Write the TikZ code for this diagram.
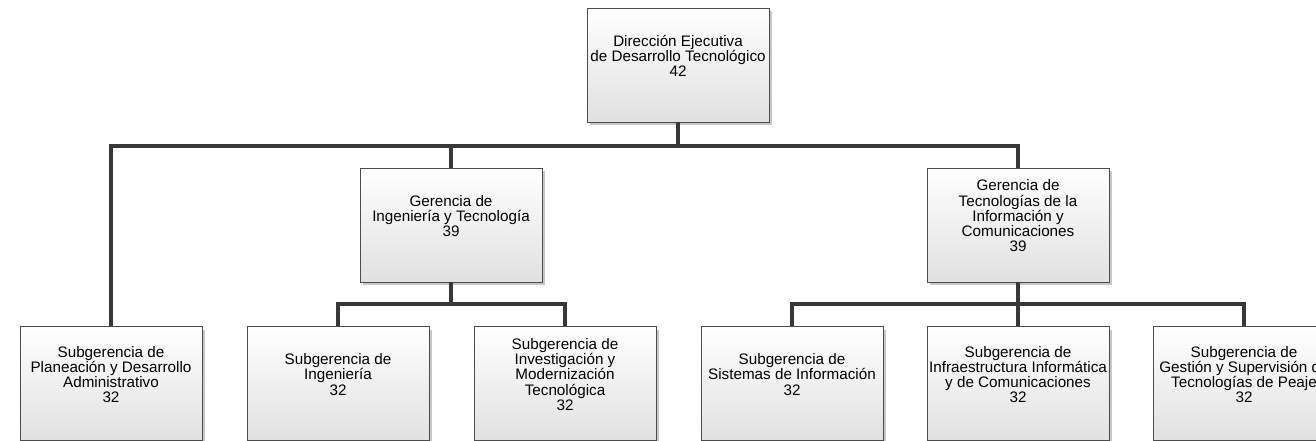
\documentclass[tikz,border=0pt]{standalone}
\usepackage{fontspec}
\setmainfont{Liberation Sans}
\usetikzlibrary{shadows}

\begin{document}
\begin{tikzpicture}[x=3cm,y=-3cm,
    unidad/.style={draw=black!70,line width=0.6pt,shade,top color=white,bottom color=black!12,
      minimum width=5.46cm,minimum height=3.42cm,inner sep=0pt,align=center,text depth=0.55cm,
      font=\fontsize{13}{13}\selectfont,
      drop shadow={shadow xshift=2.6pt,shadow yshift=-2.6pt,fill=black!22,opacity=1}},
    enlace/.style={draw=black!78,line width=3pt}]
  \clip (0,0) rectangle (13.16,4.41);
   \draw (6.78,0.65) node[unidad] (direccion) {Dirección Ejecutiva\\de Desarrollo Tecnológico\\42};
    \draw (4.51,2.25) node[unidad] (g-ingenieria) {Gerencia de\\Ingeniería y Tecnología\\39};
    \draw (10.18,2.25) node[unidad] (g-tic) {Gerencia de\\Tecnologías de la\\Información y\\Comunicaciones\\39};
  \draw (1.11,3.835) node[unidad] (s-planeacion) {Subgerencia de\\Planeación y Desarrollo\\Administrativo\\32};
      \draw (3.38,3.835) node[unidad] (s-ingenieria) {Subgerencia de\\Ingeniería\\32};
      \draw (5.65,3.835) node[unidad] (s-investigacion) {Subgerencia de\\Investigación y\\Modernización\\Tecnológica\\32};
       \draw (7.92,3.835) node[unidad] (s-sistemas) {Subgerencia de\\Sistemas de Información\\32};
       \draw (10.18,3.835) node[unidad] (s-infraestructura) {Subgerencia de\\Infraestructura Informática\\y de Comunicaciones\\32};
       \draw (12.44,3.835) node[unidad] (s-peaje) {Subgerencia de\\Gestión y Supervisión de\\Tecnologías de Peaje\\32};

    \coordinate (bus-dir) at (6.78,1.46);
    \coordinate (bus-ing) at (4.51,3.04);
    \coordinate (bus-tic) at (10.18,3.04);

        \path[enlace] (direccion) -- (bus-dir);
        \path[enlace] (bus-dir) -| (s-planeacion);
        \path[enlace] (bus-dir) -| (g-ingenieria);
        \path[enlace] (bus-dir) -| (g-tic);

          \path[enlace] (g-ingenieria) -- (bus-ing);
          \path[enlace] (bus-ing) -| (s-ingenieria);
          \path[enlace] (bus-ing) -| (s-investigacion);

          \path[enlace] (g-tic) -- (bus-tic);
          \path[enlace] (bus-tic) -| (s-sistemas);
          \path[enlace] (bus-tic) -- (s-infraestructura);
          \path[enlace] (bus-tic) -| (s-peaje);
\end{tikzpicture}
\end{document}
